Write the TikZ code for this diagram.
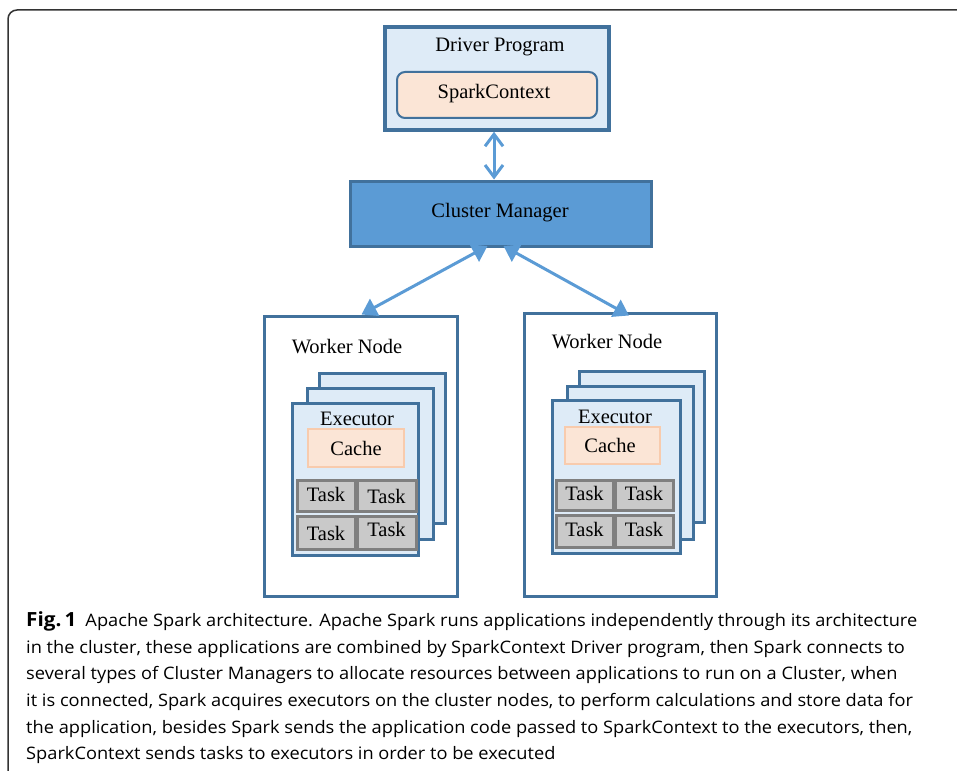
\documentclass[tikz,border=0pt]{standalone}
\usepackage{fontspec}
\setmainfont{Liberation Serif}
\newfontfamily\capfont[FakeStretch=1.06]{Open Sans}
\usetikzlibrary{arrows.meta}
\definecolor{dkb}{HTML}{41719C}
\definecolor{ltb}{HTML}{DEEBF7}
\definecolor{midb}{HTML}{5B9BD5}
\definecolor{peach}{HTML}{FBE5D6}
\definecolor{peachb}{HTML}{F8CBAD}
\definecolor{taskf}{HTML}{C9C9C9}
\definecolor{taskb}{HTML}{7F7F7F}
\definecolor{framec}{HTML}{333333}
\tikzset{
  lbl/.style={font=\fontsize{20.5}{22}\selectfont, text=black, inner sep=0pt},
  boxbase/.style={draw=dkb, line width=3pt, inner sep=0pt},
  drvbox/.style={boxbase, fill=ltb, line width=3.5pt},
  scbox/.style={draw=dkb, line width=2pt, fill=peach, rounded corners=8pt, inner sep=0pt},
  cmbox/.style={boxbase, fill=midb},
  wkbox/.style={boxbase, fill=white},
  exbox/.style={boxbase, fill=ltb},
  cachebox/.style={draw=peachb, line width=2.5pt, fill=peach, inner sep=0pt},
  taskbox/.style={draw=taskb, line width=3pt, fill=taskf, inner sep=0pt},
  arrtri/.style={draw=midb, line width=3pt, {Triangle[length=15pt,width=19pt]}-{Triangle[length=15pt,width=19pt]}},
  arrbarb/.style={draw=midb, line width=3pt, {Straight Barb[length=12pt,width=18pt]}-{Straight Barb[length=12pt,width=18pt]}},
  capline/.style={anchor=base west, inner sep=0pt, font=\capfont\fontsize{17.2}{20}\selectfont},
}
\begin{document}
\begin{tikzpicture}[x=1pt,y=-1pt]
\useasboundingbox (0,0) rectangle (957,770);
% outer frame
\draw[framec, line width=1.5pt, rounded corners=9pt] (8,775) -- (8,10) -- (965,10);

% driver
\node[drvbox, minimum width=224pt, minimum height=103pt] (drv) at (497,78.5) {};
\node[lbl] (drvt) at (500,46.5) {Driver Program};
\node[scbox, minimum width=200pt, minimum height=46pt] (sc) at (497,95) {};
\node[lbl] (sct) at (494,94) {SparkContext};

% cluster manager
\node[cmbox, minimum width=301pt, minimum height=65pt] (cm) at (500.5,213.5) {};
\node[lbl] (cmt) at (500,213) {Cluster Manager};

% worker left
\node[wkbox, minimum width=193pt, minimum height=280pt] (wl) at (360.5,456) {};
\node[lbl] (wlt) at (347,346.5) {Worker Node};
\node[exbox, minimum width=126pt, minimum height=150pt] (elb) at (382,448) {};
\node[exbox, minimum width=126pt, minimum height=151pt] (elm) at (370,463.5) {};
\node[exbox, minimum width=126pt, minimum height=152pt] (elf) at (355,479) {};
\node[lbl] (elt) at (357,418.5) {Executor};
\node[cachebox, minimum width=96pt, minimum height=38pt] (elc) at (356,448) {};
\node[lbl] (elct) at (356,448.5) {Cache};
\node[taskbox, minimum width=58pt, minimum height=31pt] (lt1) at (326,495.5) {};
\node[taskbox, minimum width=59pt, minimum height=31pt] (lt2) at (386.5,495.5) {};
\node[taskbox, minimum width=58pt, minimum height=33pt] (lt3) at (326,532.5) {};
\node[taskbox, minimum width=59pt, minimum height=33pt] (lt4) at (386.5,532.5) {};
\node[lbl] at ([yshift=1pt]lt1.center) {Task};
\node[lbl] at ([yshift=-1pt]lt2.center) {Task};
\node[lbl] at ([yshift=-1pt]lt3.center) {Task};
\node[lbl] at ([yshift=3pt]lt4.center) {Task};

% worker right
\node[wkbox, minimum width=192pt, minimum height=283pt] (wr) at (620,454.5) {};
\node[lbl] (wrt) at (607,341.5) {Worker Node};
\node[exbox, minimum width=125pt, minimum height=151pt] (erb) at (641.5,446.5) {};
\node[exbox, minimum width=126pt, minimum height=153pt] (erm) at (630,462.5) {};
\node[exbox, minimum width=128pt, minimum height=153pt] (erf) at (616,476.5) {};
\node[lbl] (ert) at (615,416.5) {Executor};
\node[cachebox, minimum width=95pt, minimum height=37pt] (erc) at (612.5,445.5) {};
\node[lbl] (erct) at (610,445.5) {Cache};
\node[taskbox, minimum width=57pt, minimum height=30pt] (rt1) at (584.5,495) {};
\node[taskbox, minimum width=58pt, minimum height=30pt] (rt2) at (644,495) {};
\node[taskbox, minimum width=57pt, minimum height=32pt] (rt3) at (584.5,531) {};
\node[taskbox, minimum width=58pt, minimum height=32pt] (rt4) at (644,531) {};
\node[lbl] at ([yshift=1.5pt]rt1.center) {Task};
\node[lbl] at ([yshift=1.5pt]rt2.center) {Task};
\node[lbl] at ([yshift=1.5pt]rt3.center) {Task};
\node[lbl] at ([yshift=1.5pt]rt4.center) {Task};

% arrows
\draw[arrbarb] ([xshift=-3pt]drv.south) -- ([xshift=-6.5pt]cm.north);
\draw[arrtri] ([xshift=-13pt,yshift=1.5pt]cm.south) -- ([xshift=1pt]wl.north);
\draw[arrtri] ([xshift=3pt,yshift=1.5pt]cm.south) -- ([xshift=9pt,yshift=-4pt]wr.north);

% caption
\node[capline] (c1) at (26,626) {{\fontsize{19.5}{20}\selectfont\bfseries Fig.\,1}\hspace{9pt}Apache Spark architecture. Apache Spark runs applications independently through its architecture};
\node[capline] (c2) at (26,653) {in the cluster, these applications are combined by SparkContext Driver program, then Spark connects to};
\node[capline] (c3) at (26,679.5) {several types of Cluster Managers to allocate resources between applications to run on a Cluster, when};
\node[capline] (c4) at (26,706) {it is connected, Spark acquires executors on the cluster nodes, to perform calculations and store data for};
\node[capline] (c5) at (26,733) {the application, besides Spark sends the application code passed to SparkContext to the executors, then,};
\node[capline] (c6) at (26,759.5) {SparkContext sends tasks to executors in order to be executed};
\end{tikzpicture}
\end{document}
